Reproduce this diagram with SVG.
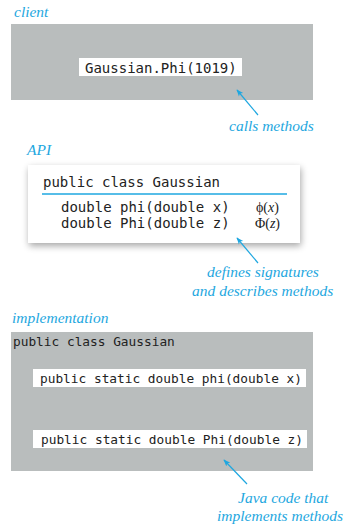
<svg xmlns="http://www.w3.org/2000/svg" width="347" height="526" viewBox="0 0 347 526">
<style>
.lbl{font-family:"Liberation Serif","Times New Roman",serif;font-style:italic;font-size:15.5px;fill:#1ea7e0}
.code{font-family:"DejaVu Sans Mono","Liberation Mono",monospace;font-size:14px;fill:#222}
.code13{font-family:"DejaVu Sans Mono","Liberation Mono",monospace;font-size:12.8px;fill:#222}
.math{font-family:"Liberation Serif","Times New Roman",serif;font-size:14px;fill:#222}
.gray{fill:#b9bdbd}
.wb{fill:#fff}
.arr{stroke:#1ea7e0;stroke-width:1.2;fill:none;marker-end:url(#ah)}
</style>
<defs>
<marker id="ah" viewBox="0 0 10 10" refX="9" refY="5" markerWidth="7" markerHeight="7" orient="auto-start-reverse" markerUnits="userSpaceOnUse">
<path d="M0,1 L10,5 L0,9 L2.5,5 Z" fill="#1ea7e0"/>
</marker>
<filter id="sh" x="-10%" y="-15%" width="125%" height="140%">
<feGaussianBlur in="SourceAlpha" stdDeviation="3.5"/>
<feOffset dx="1" dy="3" result="b"/>
<feComponentTransfer><feFuncA type="linear" slope="0.35"/></feComponentTransfer>
<feMerge><feMergeNode/><feMergeNode in="SourceGraphic"/></feMerge>
</filter>
</defs>
<rect width="347" height="526" fill="#fff"/>

<g id="client">
<text class="lbl" x="14" y="17">client</text>
<rect class="gray" x="11" y="24" width="302" height="76"/>
<rect class="wb" x="79" y="58" width="163" height="18"/>
<text class="code" x="85" y="72.5">Gaussian.Phi(1019)</text>
</g>

<g id="api">
<text class="lbl" x="27" y="155">API</text>
<rect x="28" y="165" width="272" height="78" fill="#fff" filter="url(#sh)"/>
<text class="code" x="43" y="186.5">public class Gaussian</text>
<line x1="42" y1="194" x2="287" y2="194" stroke="#1ea7e0" stroke-width="1.5"/>
<text class="code" x="61" y="212">double phi(double x)</text>
<text class="code" x="61" y="228">double Phi(double z)</text>
<text class="math" x="256" y="212">ϕ(<tspan font-style="italic">x</tspan>)</text>
<text class="math" x="255" y="228">Φ(<tspan font-style="italic">z</tspan>)</text>
</g>

<g id="implementation">
<text class="lbl" x="12" y="323">implementation</text>
<rect class="gray" x="11" y="332" width="302" height="139"/>
<text class="code13" x="13" y="346">public class Gaussian</text>
<rect class="wb" x="33" y="369" width="273" height="18"/>
<text class="code13" x="40" y="382.5">public static double phi(double x)</text>
<rect class="wb" x="33" y="430" width="274" height="18"/>
<text class="code13" x="41" y="443.5">public static double Phi(double z)</text>
</g>

<g id="notes">
<text class="lbl" x="229" y="131">calls methods</text>
<text class="lbl" x="207" y="277">defines signatures</text>
<text class="lbl" x="192" y="296">and describes methods</text>
<text class="lbl" x="238" y="503">Java code that</text>
<text class="lbl" x="217" y="521">implements methods</text>
</g>

<g id="connectors">
<line class="arr" x1="258" y1="115" x2="237" y2="90"/>
<line class="arr" x1="258" y1="263" x2="237" y2="238"/>
<line class="arr" x1="247" y1="484" x2="224" y2="460"/>
</g>
</svg>
